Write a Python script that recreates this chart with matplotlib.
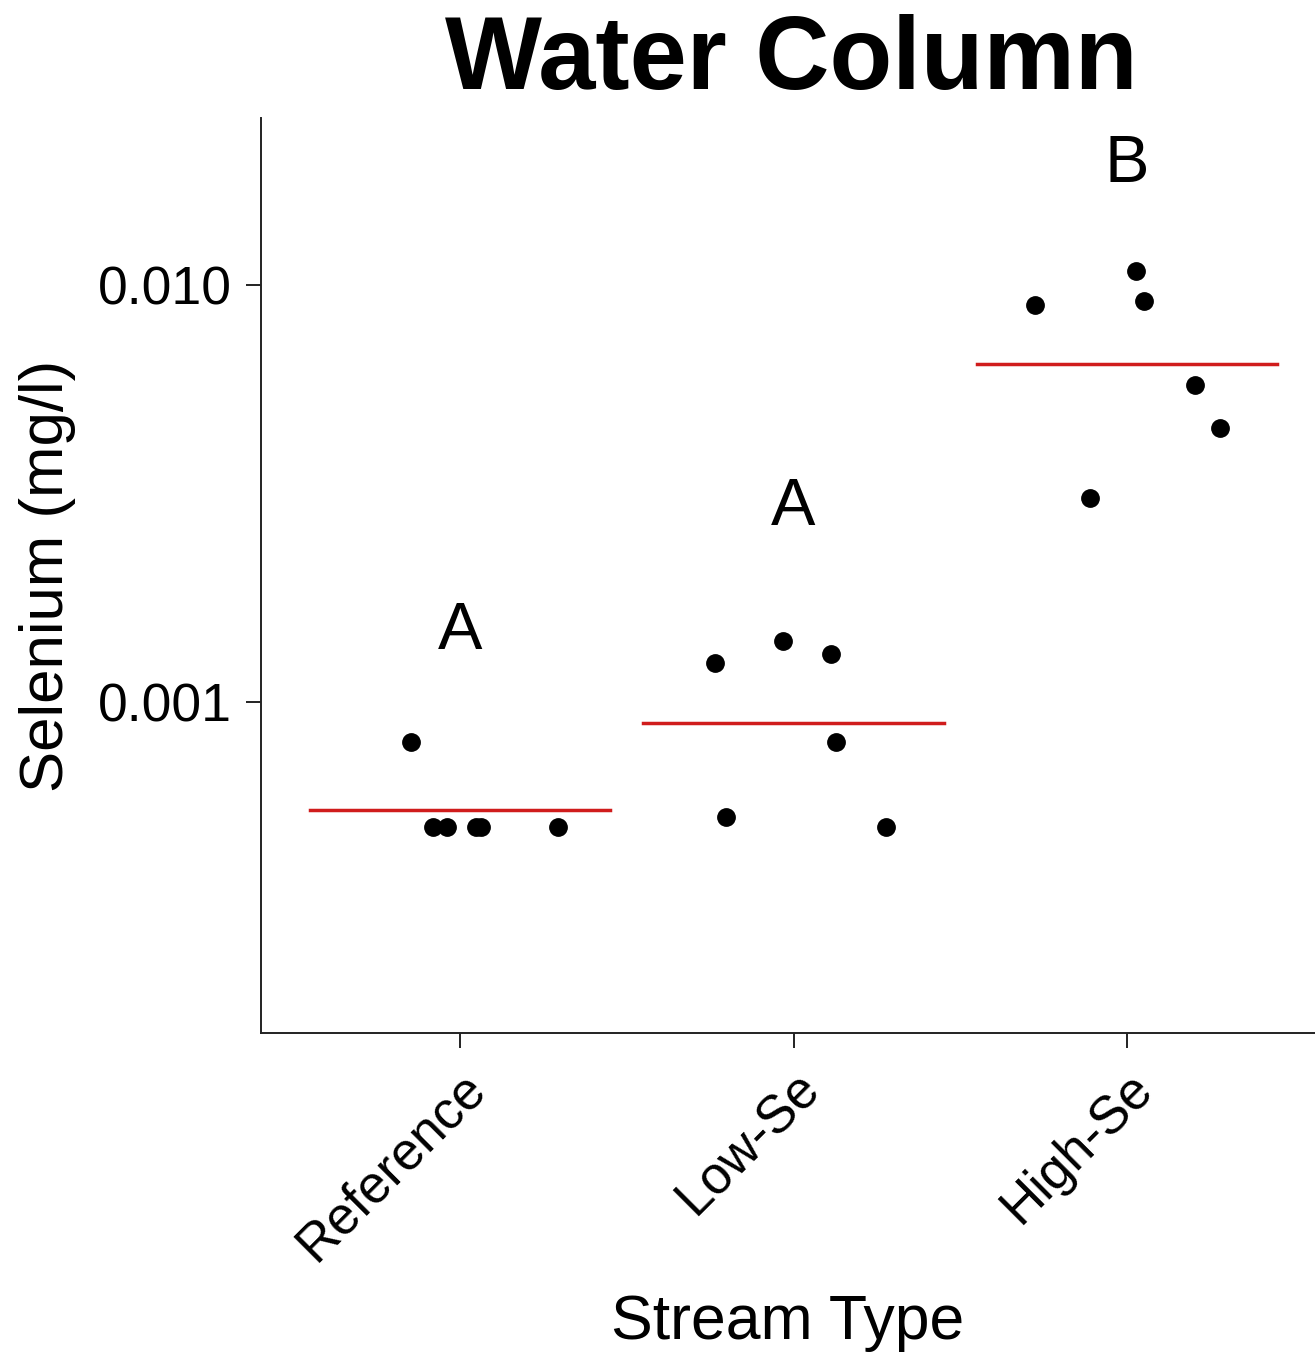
import matplotlib
matplotlib.use("Agg")
import matplotlib.pyplot as plt
import matplotlib.transforms as mtransforms
from matplotlib.ticker import FixedLocator, FixedFormatter, NullLocator

plt.rcParams["font.family"] = ["Liberation Sans", "DejaVu Sans"]

STREAM_TYPES = ["Reference", "Low-Se", "High-Se"]

# selenium in water column (mg/l), one list per stream type
reference_se = [0.0008, 0.0005, 0.0005, 0.0005, 0.0005, 0.0005]
low_se = [0.00124, 0.00053, 0.0014, 0.0013, 0.0008, 0.0005]
high_se = [0.00895, 0.00308, 0.0108, 0.00916, 0.00575, 0.00454]

# horizontal jitter used in the original strip chart
reference_jitter = [-0.147, -0.081, -0.039, 0.048, 0.063, 0.294]
low_jitter = [-0.234, -0.201, -0.033, 0.111, 0.126, 0.276]
high_jitter = [-0.276, -0.111, 0.027, 0.051, 0.204, 0.279]

group_means = [0.00055, 0.00089, 0.00647]
group_letters = ["A", "A", "B"]
letter_heights = [0.00147, 0.00292, 0.0194]

y_ticks = [0.001, 0.01]
y_tick_labels = ["0.001", "0.010"]


def main():
    fig = plt.figure(figsize=(13.15, 13.53), dpi=100)
    ax = fig.add_axes([0.1985, 0.2365, 0.8015, 0.6763])

    groups = [
        (reference_se, reference_jitter),
        (low_se, low_jitter),
        (high_se, high_jitter),
    ]

    for i, (values, jitter) in enumerate(groups):
        xs = [i + j for j in jitter]
        ax.plot(xs, values, "o", color="black", markersize=12.5, zorder=3)
        ax.plot([i - 0.45, i + 0.45], [group_means[i], group_means[i]],
                color="#d01c1c", linewidth=2.5, zorder=2)
        ax.text(i, letter_heights[i], group_letters[i], fontsize=48,
                ha="center", va="center")

    ax.set_yscale("log")
    ax.set_ylim(0.0001607, 0.02515)
    ax.set_xlim(-0.597, 2.564)

    ax.yaxis.set_major_locator(FixedLocator(y_ticks))
    ax.yaxis.set_major_formatter(FixedFormatter(y_tick_labels))
    ax.yaxis.set_minor_locator(NullLocator())
    ax.set_xticks(range(len(STREAM_TYPES)))
    ax.set_xticklabels([])

    ax.tick_params(axis="both", length=11, width=1.4, color="#222222",
                   labelsize=38.5, pad=10)

    for side in ["top", "right"]:
        ax.spines[side].set_visible(False)
    for side in ["left", "bottom"]:
        ax.spines[side].set_linewidth(1.4)
        ax.spines[side].set_color("#222222")

    trans = mtransforms.blended_transform_factory(ax.transData, ax.transAxes)
    for i, name in enumerate(STREAM_TYPES):
        ax.text(i + 0.054, -0.052, name, transform=trans, rotation=45,
                rotation_mode="anchor", ha="right", va="center", fontsize=38)

    ax.text(0.5, -0.316, "Stream Type", transform=ax.transAxes,
            ha="center", va="center", fontsize=45)
    ax.text(-0.203, 0.5, "Selenium (mg/l)", transform=ax.transAxes,
            rotation=90, ha="center", va="center", fontsize=44.5)

    fig.text(791 / 1315, 1 - 62 / 1353, "Water Column", fontsize=74,
             fontweight="bold", ha="center", va="center")

    fig.savefig("out.png", dpi=100)
    plt.close(fig)


if __name__ == "__main__":
    main()
